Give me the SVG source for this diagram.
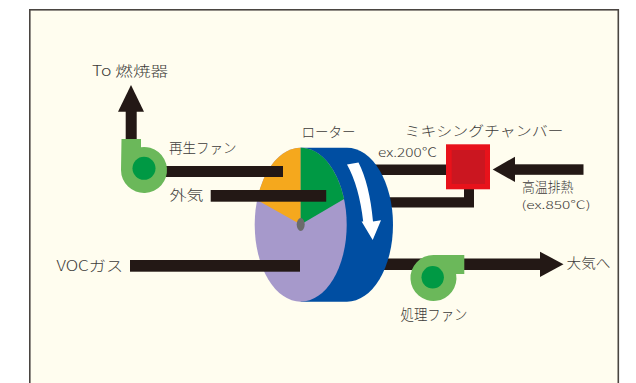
<svg xmlns="http://www.w3.org/2000/svg" width="636" height="383" viewBox="0 0 636 383">
  <style>
    .lbl { font-family: "Noto Sans CJK JP", "Noto Sans", sans-serif; fill: #3d3b39; font-size: 14px; font-weight: 300; }
    .sm { font-size: 12px; }
    .duct { fill: #231815; }
    .fan-body { fill: #6bb85a; }
    .fan-core { fill: #009944; }
  </style>

  <!-- background panel -->
  <rect x="0" y="0" width="636" height="383" fill="#ffffff"/>
  <rect x="29.8" y="9.8" width="588.5" height="400" fill="#fffdef" stroke="#4a4541" stroke-width="1.6"/>

  <!-- ducts running behind the rotor -->
  <g id="connectors-back">
    <rect class="duct" x="370" y="164.5" width="80" height="10.5"/>
    <path class="duct" d="M385,197.3 H464 V185 H474 V207.5 H385 Z"/>
    <rect class="duct" x="378" y="258.5" width="163" height="11.5"/>
    <polygon class="duct" points="540,251.7 563.5,264.3 540,276.9"/>
  </g>

  <!-- adsorption rotor -->
  <g id="rotor">
    <path d="M300.7,147.7 H347 A46,77 0 0 1 347,301.7 H300.7 Z" fill="#004ea2"/>
    <ellipse cx="300.7" cy="224.7" rx="46" ry="77" fill="#a699cb"/>
    <path d="M300.7,224.5 L257.1,200 A46,77 0 0 1 300.7,147.7 Z" fill="#f5a81d"/>
    <path d="M300.7,224.5 L300.7,147.7 A46,77 0 0 1 344.1,199 Z" fill="#009944"/>
    <ellipse cx="300.7" cy="224.5" rx="4" ry="6.5" fill="#6b6b6b"/>
    <!-- rotation arrow -->
    <path d="M347,164.5 Q359,186 363.2,221.5 L361.6,221.5 L372.7,240 L381,220.3 L373,221.5 Q369.5,184 358.5,162.5 Z" fill="#ffffff"/>
  </g>

  <!-- ducts in front -->
  <g id="connectors">
    <rect class="duct" x="160" y="166" width="123" height="11"/>
    <rect class="duct" x="210.7" y="190" width="115.5" height="11.7"/>
    <rect class="duct" x="130" y="260" width="170" height="11.7"/>
    <!-- exhaust to incinerator -->
    <rect class="duct" x="125.7" y="110" width="11" height="31"/>
    <polygon class="duct" points="118,111.7 131,85 144,111.7"/>
    <!-- hot exhaust inlet -->
    <rect class="duct" x="513" y="164.3" width="70.5" height="10.5"/>
    <polygon class="duct" points="515,156.7 492.7,169.4 515,182"/>
  </g>

  <!-- regeneration fan -->
  <g id="regen-fan">
    <path class="fan-body" d="M121.5,139 H141 V147.2 A23,23 0 1 1 121,170 Z"/>
    <circle class="fan-core" cx="144" cy="168.3" r="11.5"/>
  </g>

  <!-- process fan -->
  <g id="process-fan">
    <path class="fan-body" d="M433.5,255 H464.3 V274 H456.1 A23,23 0 1 1 433.5,255 Z"/>
    <circle class="fan-core" cx="432.7" cy="277.3" r="11.2"/>
  </g>

  <!-- mixing chamber -->
  <g id="mixing-chamber">
    <rect x="446" y="144.3" width="44" height="45" fill="#e8121b"/>
    <rect x="451.7" y="150" width="33.3" height="34" fill="#cb1620"/>
  </g>

  <!-- labels -->
  <g id="labels">
    <text class="lbl" x="92" y="76" textLength="76" lengthAdjust="spacingAndGlyphs">To 燃焼器</text>
    <text class="lbl" x="169" y="152.5" textLength="67.5" lengthAdjust="spacingAndGlyphs">再生ファン</text>
    <text class="lbl" x="169.5" y="200" textLength="34" lengthAdjust="spacingAndGlyphs">外気</text>
    <text class="lbl" x="56.5" y="270.5" textLength="66.5" lengthAdjust="spacingAndGlyphs">VOCガス</text>
    <text class="lbl" x="301.5" y="137" textLength="54" lengthAdjust="spacingAndGlyphs">ローター</text>
    <text class="lbl" x="404.5" y="135.5" textLength="159" lengthAdjust="spacingAndGlyphs">ミキシングチャンバー</text>
    <text class="lbl sm" x="378" y="156.7" textLength="59" lengthAdjust="spacingAndGlyphs">ex.200℃</text>
    <text class="lbl" x="522" y="192" textLength="51.5" lengthAdjust="spacingAndGlyphs">高温排熱</text>
    <text class="lbl" x="521.5" y="209.3" textLength="69" lengthAdjust="spacingAndGlyphs" style="font-size:11px">(ex.850℃)</text>
    <text class="lbl" x="566.5" y="268" textLength="44" lengthAdjust="spacingAndGlyphs">大気へ</text>
    <text class="lbl" x="400.5" y="320" textLength="67" lengthAdjust="spacingAndGlyphs" style="font-size:15px">処理ファン</text>
  </g>
</svg>
